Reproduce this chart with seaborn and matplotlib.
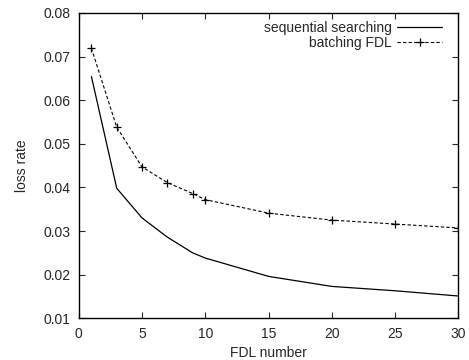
import pandas as pd
import matplotlib
matplotlib.use("Agg")
import matplotlib.pyplot as plt
import seaborn as sns

fdl = [1, 3, 5, 7, 9, 10, 15, 20, 25, 30]
sequential = [0.0654, 0.0398, 0.0330, 0.0286, 0.0250, 0.0238, 0.0196, 0.0173, 0.0163, 0.0151]
batching = [0.0719, 0.0538, 0.0447, 0.0411, 0.0386, 0.0372, 0.0341, 0.0325, 0.0316, 0.0307]

df = pd.DataFrame({"FDL number": fdl, "sequential searching": sequential, "batching FDL": batching})

sns.set_style("ticks")
plt.rcParams['font.family'] = ['Liberation Sans', 'DejaVu Sans']
plt.rcParams['font.size'] = 10

fig = plt.figure(figsize=(4.69, 3.6), dpi=100)
ax = fig.add_axes([0.168, 0.116, 0.809, 0.848])

sns.lineplot(data=df, x="FDL number", y="sequential searching", ax=ax, color="black",
             linewidth=0.9, label="sequential searching")
sns.lineplot(data=df, x="FDL number", y="batching FDL", ax=ax, color="black",
             linewidth=0.8, linestyle=(0, (3, 2)), marker="+", markersize=6,
             markeredgewidth=0.9, markeredgecolor="black", markerfacecolor="black",
             label="batching FDL")

ax.set_xlim(0, 30)
ax.set_ylim(0.01, 0.08)
ax.set_xticks([0, 5, 10, 15, 20, 25, 30])
ax.set_yticks([0.01, 0.02, 0.03, 0.04, 0.05, 0.06, 0.07, 0.08])
ax.set_yticklabels(["0.01", "0.02", "0.03", "0.04", "0.05", "0.06", "0.07", "0.08"])
ax.tick_params(direction="in", top=True, right=True, length=4, width=0.8, labelsize=10)
ax.tick_params(axis="x", pad=6)
ax.tick_params(axis="y", pad=6)
for s in ax.spines.values():
    s.set_linewidth(1.0)
    s.set_color("black")
ax.set_xlabel("FDL number", fontsize=10, labelpad=4)
ax.set_ylabel("loss rate", fontsize=10, labelpad=10)

ax.legend(loc="upper right", bbox_to_anchor=(0.979, 1.0), frameon=False, markerfirst=False,
          handlelength=3.2, fontsize=10, borderaxespad=0.2, labelspacing=0.05,
          handletextpad=0.4)

fig.savefig("out.png", dpi=100)
